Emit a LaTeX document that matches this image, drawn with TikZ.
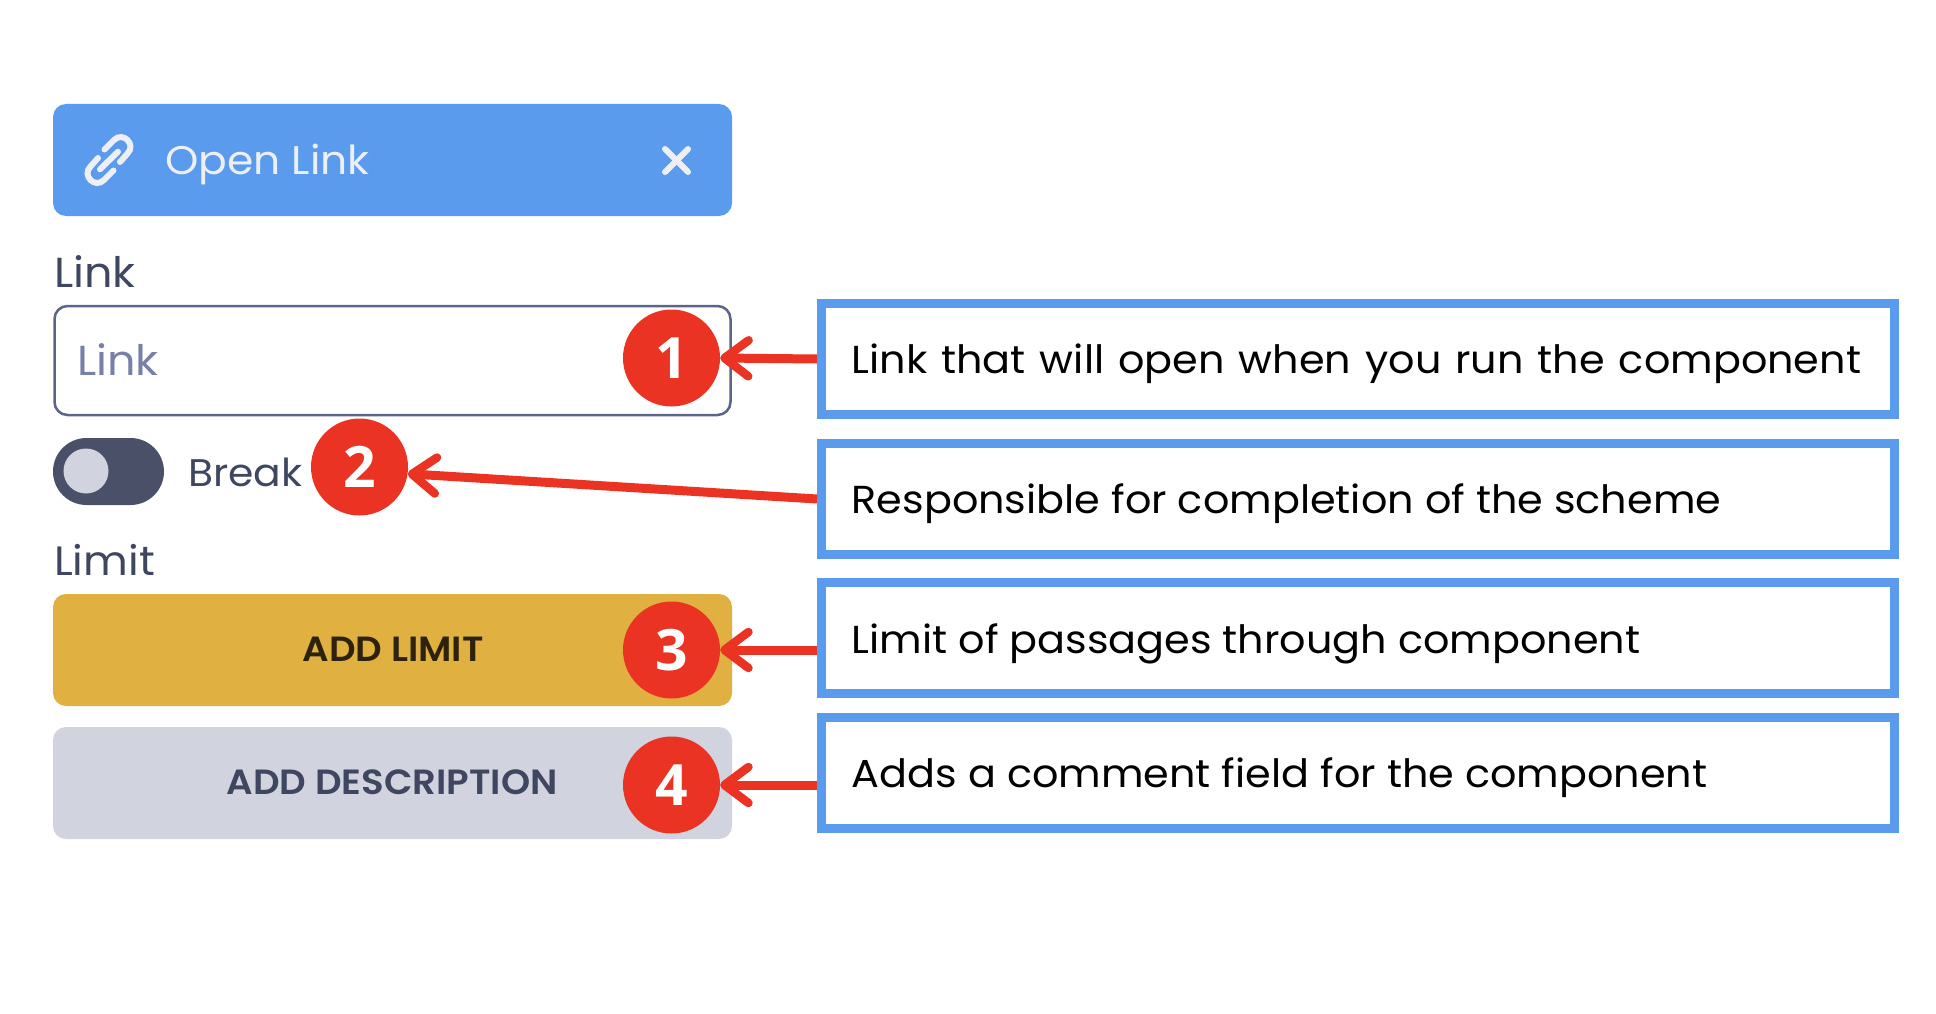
\documentclass[tikz,border=0pt]{standalone}
\usepackage{fontspec}
\usetikzlibrary{arrows.meta}
\setmainfont{Poppins}[FakeStretch=1.06]
\newfontfamily\semifont{Poppins SemiBold}[FakeStretch=1.06]
\newfontfamily\numfont{Open Sans}
\definecolor{bluemain}{HTML}{5B9BED}
\definecolor{redmain}{HTML}{EA3323}
\definecolor{goldmain}{HTML}{E0B040}
\definecolor{greymain}{HTML}{D1D3DF}
\definecolor{darkmain}{HTML}{4A5068}
\definecolor{inkmain}{HTML}{3F4660}
\definecolor{holdermain}{HTML}{7880A8}
\definecolor{rimmain}{HTML}{5C6488}
\definecolor{softwhite}{HTML}{EDEFF5}
\newcommand{\fsz}[1]{\fontsize{#1}{#1}\selectfont}
\tikzset{
  x=1pt,y=-1pt,
  uibox/.style={rounded corners=13pt,inner sep=0pt,minimum width=679pt,minimum height=112pt,outer sep=0pt},
  numdot/.style={circle,fill=redmain,text=white,inner sep=0pt,minimum size=97pt,font=\numfont\bfseries\fsz{57}},
  notebox/.style={draw=bluemain,line width=9pt,fill=white,inner sep=0pt,minimum width=1073pt,minimum height=111pt},
  notetext/.style={anchor=base west,inner sep=0pt,text=black,font=\fsz{39}},
  uilabel/.style={anchor=base west,inner sep=0pt,text=inkmain,font=\fsz{40}},
  btntext/.style={anchor=base,inner sep=0pt,font=\semifont\fsz{35}},
  callout/.style={redmain,line width=9pt,-{Straight Barb[length=24pt,width=36pt,line width=8.5pt,round]}},
  iconline/.style={softwhite,line width=6pt,line cap=round},
}
\begin{document}
\begin{tikzpicture}
\useasboundingbox (0,0) rectangle (1936,1014);
% header
\node[uibox,fill=bluemain] (head) at (392.5,160) {};
\node[anchor=base west,inner sep=0pt,text=softwhite,font=\fsz{40}] (headtext) at (165,174.5) {Open Link};
\draw[iconline] (104.5,149.5) -- (114,140) .. controls (123,131) and (136.5,144.5) .. (127.5,153.5) -- (120,162);
\draw[iconline] (113.5,170.5) -- (104,180) .. controls (95,189) and (81.5,175.5) .. (90.5,166.5) -- (98,158);
\draw[iconline] (100,169.3) -- (118,151.7);
\draw[iconline] (665,149) -- (688,172);
\draw[iconline] (688,149) -- (665,172);
% link field
\node[uilabel,font=\fsz{42}] (linklabel) at (54,287) {Link};
\node[uibox,draw=rimmain,line width=2.5pt,fill=white,minimum width=676pt,minimum height=109pt] (field) at (392.5,360.5) {};
\node[anchor=base west,inner sep=0pt,text=holdermain,font=\fsz{42}] (holder) at (77,375.5) {Link};
% toggle
\node[rounded corners=33.5pt,fill=darkmain,minimum width=111pt,minimum height=67pt,inner sep=0pt,outer sep=0pt] (toggle) at (108.5,471.5) {};
\node[circle,fill=greymain,minimum size=45pt,inner sep=0pt] (knob) at (86,471) {};
\node[uilabel,font=\fsz{38.5}] (breaklabel) at (188,486) {Break};
% limit
\node[uilabel,font=\fsz{41}] (limitlabel) at (54,575) {Limit};
\node[uibox,fill=goldmain] (limitbtn) at (392.5,650) {};
\node[btntext,text=black!80!goldmain] (limittext) at (393,661) {ADD LIMIT};
\node[uibox,fill=greymain] (descbtn) at (392.5,783) {};
\node[btntext,text=inkmain] (desctext) at (392,794) {ADD DESCRIPTION};
% note boxes
\node[notebox] (n1) at (1358,359) {};
\node[notebox] (n2) at (1358,499) {};
\node[notebox] (n3) at (1358,638) {};
\node[notebox] (n4) at (1358,773) {};
\node[notetext] (t1) at (851.5,373) {\spaceskip=14pt Link that will open when you run the component};
\node[notetext] (t2) at (851.5,513) {Responsible for completion of the scheme};
\node[notetext] (t3) at (851.5,653) {Limit of passages through component};
\node[notetext] (t4) at (851.5,787) {Adds a comment field for the component};
% numbered dots
\node[numdot] (c1) at (671.5,358) {1};
\node[numdot] (c2) at (359.5,467) {2};
\node[numdot] (c3) at (671.5,650) {3};
\node[numdot] (c4) at (671.5,785) {4};
% connectors
\draw[callout] (n1.west) -- (c1.east);
\draw[callout] (n2.west) -- (c2.-8);
\draw[callout] (n3.west) ++(0,12) -- (c3.east);
\draw[callout] (n4.west) ++(0,12) -- (c4.east);
\end{tikzpicture}
\end{document}
